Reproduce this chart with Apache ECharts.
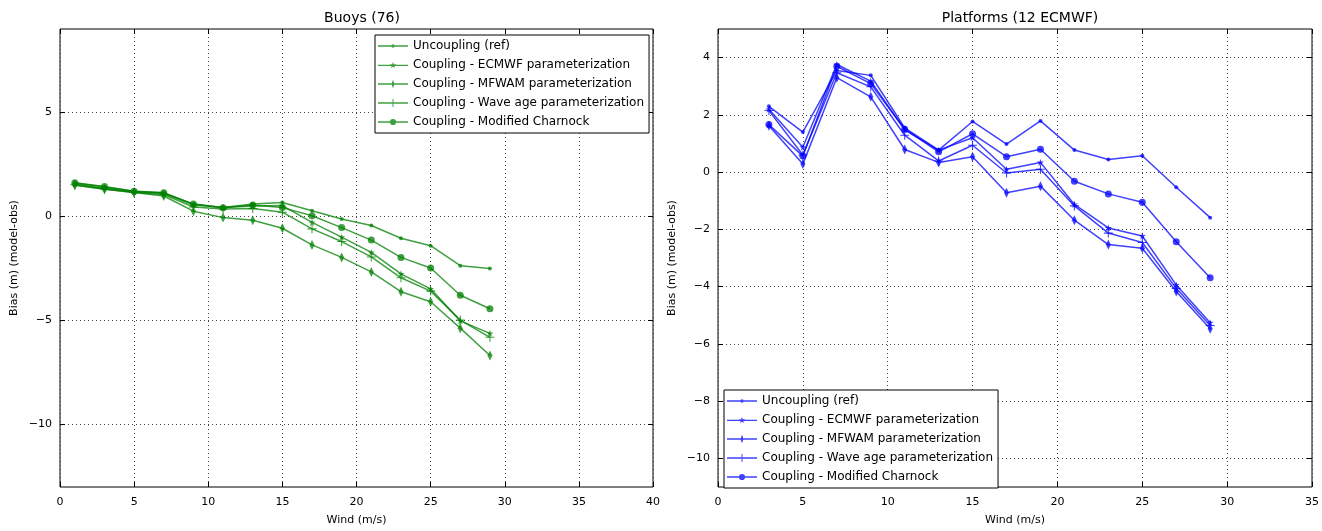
<!doctype html>
<html>
<head>
<meta charset="utf-8">
<title>Bias vs wind</title>
<script src="https://cdn.jsdelivr.net/npm/echarts@6/dist/echarts.min.js"></script>
<style>
    html, body {margin: 0; padding: 0; background: #fff;}
    #chart {width: 1322px; height: 531px;}
</style>
</head>
<body>
<div id="chart"></div>
<script>
    // wind bins (m/s)
    var windBuoys = [1, 3, 5, 7, 9, 11, 13, 15, 17, 19, 21, 23, 25, 27, 29];
    var windPlat = [3, 5, 7, 9, 11, 13, 15, 17, 19, 21, 23, 25, 27, 29];

    // Buoys (76)
    var buoyRef      = [1.60, 1.41, 1.21, 1.13, 0.59, 0.43, 0.59, 0.67, 0.27, -0.13, -0.44, -1.05, -1.41, -2.37, -2.51];
    var buoyEcmwf    = [1.55, 1.35, 1.18, 1.10, 0.55, 0.42, 0.50, 0.52, -0.29, -1.00, -1.73, -2.76, -3.48, -5.02, -5.62];
    var buoyMfwam    = [1.50, 1.30, 1.15, 0.98, 0.25, -0.06, -0.19, -0.57, -1.37, -1.97, -2.67, -3.62, -4.10, -5.37, -6.68];
    var buoyWave     = [1.52, 1.32, 1.15, 1.05, 0.45, 0.35, 0.38, 0.20, -0.60, -1.21, -1.95, -2.95, -3.59, -4.98, -5.81];
    var buoyCharnock = [1.62, 1.44, 1.21, 1.14, 0.59, 0.41, 0.55, 0.42, 0.03, -0.54, -1.14, -1.97, -2.48, -3.79, -4.44];

    // Platforms (12 ECMWF)
    var platRef      = [2.30, 1.40, 3.55, 3.38, 1.55, 0.77, 1.77, 0.98, 1.79, 0.77, 0.44, 0.57, -0.53, -1.59];
    var platEcmwf    = [2.20, 0.87, 3.76, 3.18, 1.48, 0.77, 1.20, 0.10, 0.34, -1.13, -1.95, -2.23, -3.94, -5.26];
    var platMfwam    = [1.62, 0.28, 3.30, 2.63, 0.79, 0.34, 0.54, -0.72, -0.49, -1.68, -2.53, -2.66, -4.17, -5.47];
    var platWave     = [2.15, 0.60, 3.47, 2.98, 1.29, 0.39, 0.94, -0.03, 0.10, -1.18, -2.13, -2.46, -4.06, -5.36];
    var platCharnock = [1.66, 0.56, 3.70, 3.09, 1.50, 0.71, 1.34, 0.54, 0.80, -0.32, -0.76, -1.05, -2.43, -3.69];

    var names = ['Uncoupling (ref)', 'Coupling - ECMWF parameterization', 'Coupling - MFWAM parameterization',
                 'Coupling - Wave age parameterization', 'Coupling - Modified Charnock'];
    var yTicksBuoys = [-10, -5, 0, 5];
    var yTicksPlat = [-10, -8, -6, -4, -2, 0, 2, 4];

    var STAR = 'path://M5,0 L6.2,3.6 L10,3.6 L6.9,5.8 L8.1,9.5 L5,7.2 L1.9,9.5 L3.1,5.8 L0,3.6 L3.8,3.6 Z';
    var PLUS = 'path://M4.4,0 H5.6 V4.4 H10 V5.6 H5.6 V10 H4.4 V5.6 H0 V4.4 H4.4 Z';
    var markers = [
        {symbol: 'circle', size: 4},
        {symbol: STAR, size: 7},
        {symbol: 'diamond', size: [5, 10]},
        {symbol: PLUS, size: 9},
        {symbol: 'circle', size: 7}
    ];

    // legend icons: a line with the marker in the middle (matplotlib look)
    var LINE = 'M0,4.3 H32 V5.7 H0 Z ';
    var legendIcons = [
        'path://' + LINE + 'M14.2,5 A1.8,1.8 0 1 1 17.8,5 A1.8,1.8 0 1 1 14.2,5 Z',
        'path://' + LINE + 'M16,1.4 L16.88,3.79 L19.42,3.89 L17.43,5.46 L18.12,7.91 L16,6.5 L13.88,7.91 L14.57,5.46 L12.58,3.89 L15.12,3.79 Z',
        'path://' + LINE + 'M16,0.5 L17.6,5 L16,9.5 L14.4,5 Z',
        'path://' + LINE + 'M15.5,0.8 H16.5 V9.2 H15.5 Z',
        'path://' + LINE + 'M12.7,5 A3.3,3.3 0 1 1 19.3,5 A3.3,3.3 0 1 1 12.7,5 Z'
    ];

    function pairs(xs, ys) {
        var out = [];
        for (var i = 0; i < xs.length; i++) out.push([xs[i], ys[i]]);
        return out;
    }
    function minus(v) { return String(v).replace('-', '\u2212'); }

    var font = 'DejaVu Sans';
    var grid = {color: '#444', type: [1, 3], width: 1};
    function xAxis(idx, max) {
        return {
            gridIndex: idx, type: 'value', min: 0, max: max, interval: 5,
            name: 'Wind (m/s)', nameLocation: 'middle', nameGap: 28,
            nameTextStyle: {fontFamily: font, fontSize: 11, color: '#000'},
            axisLine: {show: false, onZero: false},
            axisTick: {inside: true, length: 5, lineStyle: {color: '#000'}},
            axisLabel: {fontFamily: font, fontSize: 11, color: '#000', margin: 10},
            splitLine: {show: true, lineStyle: grid}
        };
    }
    function xTop(idx, max) {
        return {
            gridIndex: idx, type: 'value', position: 'top', min: 0, max: max, interval: 5,
            axisLine: {show: false, onZero: false},
            axisTick: {inside: true, length: 5, lineStyle: {color: '#000'}},
            axisLabel: {show: false}, splitLine: {show: false}
        };
    }
    function yAxis(idx, min, max, ticks) {
        return {
            gridIndex: idx, type: 'value', min: min, max: max,
            name: 'Bias (m) (model-obs)', nameLocation: 'middle', nameGap: 40, nameRotate: 90,
            nameTextStyle: {fontFamily: font, fontSize: 11, color: '#000'},
            axisLine: {show: false, onZero: false},
            axisTick: {inside: true, length: 5, customValues: ticks, lineStyle: {color: '#000'}},
            axisLabel: {fontFamily: font, fontSize: 11, color: '#000', margin: 8, customValues: ticks, formatter: minus},
            splitLine: {show: true, lineStyle: grid}
        };
    }
    function yRight(idx, min, max, ticks) {
        return {
            gridIndex: idx, type: 'value', position: 'right', min: min, max: max,
            axisLine: {show: false, onZero: false},
            axisTick: {inside: true, length: 5, customValues: ticks, lineStyle: {color: '#000'}},
            axisLabel: {show: false, customValues: ticks}, splitLine: {show: false}
        };
    }

    var groups = [
        {x: windBuoys, ys: [buoyRef, buoyEcmwf, buoyMfwam, buoyWave, buoyCharnock], color: 'rgba(0,128,0,0.75)', suffix: ''},
        {x: windPlat, ys: [platRef, platEcmwf, platMfwam, platWave, platCharnock], color: 'rgba(0,0,255,0.75)', suffix: ' '}
    ];
    var series = [];
    groups.forEach(function (g, gi) {
        g.ys.forEach(function (ys, k) {
            series.push({
                type: 'line', name: names[k] + g.suffix,
                xAxisIndex: gi, yAxisIndex: gi,
                data: pairs(g.x, ys),
                symbol: markers[k].symbol, symbolSize: markers[k].size,
                showAllSymbol: true,
                lineStyle: {color: g.color, width: 1.5},
                itemStyle: {color: g.color},
                emphasis: {disabled: true},
                animation: false
            });
        });
    });

    function legend(left, top, bottom, suffix) {
        var l = {
            orient: 'vertical', left: left,
            data: names.map(function (n, k) { return {name: n + suffix, icon: legendIcons[k]}; }),
            formatter: function (n) { return n.trim(); },
            itemWidth: 30, itemHeight: 10, itemGap: 7,
            padding: [5, 5, 5, 3],
            borderColor: '#000', borderWidth: 1, backgroundColor: '#fff',
            textStyle: {fontFamily: font, fontSize: 12, color: '#000'},
            selectedMode: false
        };
        if (top != null) l.top = top; else l.bottom = bottom;
        return l;
    }

    var myChart = echarts.init(document.getElementById('chart'));
    var option = {
        backgroundColor: '#fff',
        title: [
            {text: 'Buoys (76)', left: 357, top: 6, textAlign: 'center',
             textStyle: {fontFamily: font, fontSize: 14, fontWeight: 'normal', color: '#000'}},
            {text: 'Platforms (12 ECMWF)', left: 1015, top: 6, textAlign: 'center',
             textStyle: {fontFamily: font, fontSize: 14, fontWeight: 'normal', color: '#000'}}
        ],
        grid: [
            {left: 60, top: 29, width: 593, height: 463, show: true, borderColor: '#000', borderWidth: 1, backgroundColor: 'transparent'},
            {left: 718, top: 29, width: 595, height: 463, show: true, borderColor: '#000', borderWidth: 1, backgroundColor: 'transparent'}
        ],
        xAxis: [xAxis(0, 40), xAxis(1, 35), xTop(0, 40), xTop(1, 35)],
        yAxis: [yAxis(0, -13, 9, yTicksBuoys), yAxis(1, -11, 5, yTicksPlat), yRight(0, -13, 9, yTicksBuoys), yRight(1, -11, 5, yTicksPlat)],
        legend: [legend(375, 35, null, ''), legend(724, null, 43, ' ')],
        series: series
    };
    myChart.setOption(option);
</script>
</body>
</html>
